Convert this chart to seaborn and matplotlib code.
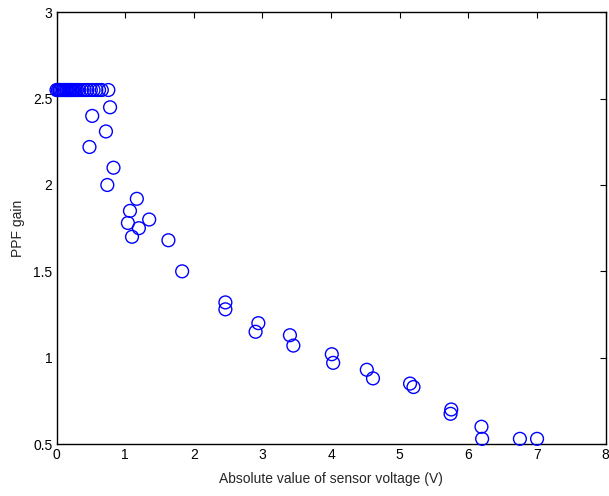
import matplotlib
matplotlib.use("Agg")
import matplotlib.pyplot as plt
import seaborn as sns
import pandas as pd

# Absolute sensor voltage (V) and the resulting PPF gain
voltage = [0.0, 0.02, 0.04, 0.05, 0.07, 0.09, 0.10, 0.12, 0.14, 0.15, 0.17,
           0.19, 0.20, 0.22, 0.24, 0.26, 0.28, 0.30, 0.33, 0.37, 0.41, 0.45,
           0.50, 0.54, 0.58, 0.62, 0.66, 0.755,
           0.52, 0.48, 0.78, 0.72, 0.83, 0.74,
           1.17, 1.07, 1.04, 1.35, 1.20, 1.10, 1.63, 1.83,
           2.46, 2.46, 2.94, 2.90, 3.40, 3.45, 4.01, 4.03, 4.52, 4.61,
           5.15, 5.20, 5.75, 5.74, 6.19, 6.20, 6.75, 7.00]
gain = [2.55] * 28 + [
           2.40, 2.22, 2.45, 2.31, 2.10, 2.00,
           1.92, 1.85, 1.78, 1.80, 1.75, 1.70, 1.68, 1.50,
           1.32, 1.28, 1.20, 1.15, 1.13, 1.07, 1.02, 0.97, 0.93, 0.88,
           0.85, 0.83, 0.70, 0.675, 0.60, 0.53, 0.53, 0.53]

x_ticks = [0, 1, 2, 3, 4, 5, 6, 7, 8]
y_ticks = [0.5, 1, 1.5, 2, 2.5, 3]

df = pd.DataFrame({"voltage": voltage, "gain": gain})

sns.set_style("white")
plt.rcParams["font.family"] = ["Liberation Sans", "DejaVu Sans"]

fig = plt.figure(figsize=(6.09, 4.96), dpi=100)
ax = fig.add_axes([0.0928, 0.1048, 0.9018, 0.8704])

sns.scatterplot(data=df, x="voltage", y="gain", ax=ax, marker="o",
                s=85, facecolors="none", edgecolor="#0000ff",
                linewidth=1.0, legend=False, clip_on=False, zorder=3)

ax.set_xlim(0, 8)
ax.set_ylim(0.5, 3)
ax.set_xticks(x_ticks)
ax.set_xticklabels([str(t) for t in x_ticks])
ax.set_yticks(y_ticks)
ax.set_yticklabels(["0.5", "1", "1.5", "2", "2.5", "3"])
ax.tick_params(direction="in", length=4, width=0.8, top=True, right=True,
               labelsize=10, colors="black", pad=3)
for sp in ax.spines.values():
    sp.set_visible(True)
    sp.set_color("black")
    sp.set_linewidth(1.0)

ax.set_xlabel("Absolute value of sensor voltage (V)", fontsize=10, labelpad=7)
ax.set_ylabel("PPF gain", fontsize=10, labelpad=6)

fig.savefig("out.png", dpi=100)
